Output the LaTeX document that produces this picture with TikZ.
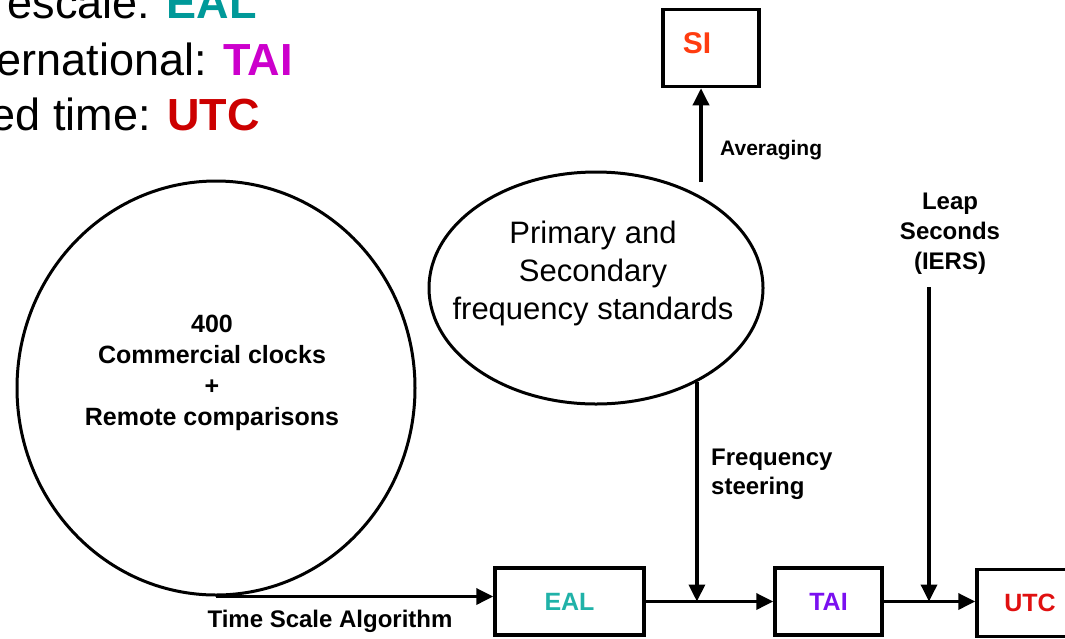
\documentclass[tikz,border=0pt]{standalone}
\usepackage{fontspec}
\setmainfont{Liberation Sans}
\usetikzlibrary{shapes.geometric,arrows.meta}
\definecolor{ealcol}{HTML}{009999}
\definecolor{taicol}{HTML}{CC00CC}
\definecolor{utccol}{HTML}{CC0000}
\definecolor{ealbox}{HTML}{20B2A8}
\definecolor{taibox}{HTML}{7A10F0}
\definecolor{utcbox}{HTML}{E01010}
\definecolor{sicol}{HTML}{FF3C10}
\tikzset{
  box/.style={draw,line width=3.5pt,minimum height=67pt,font=\fontsize{25}{29}\selectfont\bfseries},
  blob/.style={draw,ellipse,line width=3pt,inner sep=0pt},
  arr/.style={line width=3.5pt,-{Triangle[length=17pt,width=16pt]}},
  lbl/.style={font=\fontsize{24}{29}\selectfont\bfseries,align=center,inner sep=0pt},
  big/.style={font=\fontsize{45}{56}\selectfont,anchor=base east,inner sep=0pt}
}

\begin{document}
\begin{tikzpicture}[x=1pt,y=-1pt]
\useasboundingbox (0,0) rectangle (1065,638);
\clip (0,0) rectangle (1065,638);
\node[big] (line1) at (257,18) {escale: \textcolor{ealcol}{\bfseries EAL}};
\node[big] (line2) at (293,75) {ernational: \textcolor{taicol}{\bfseries TAI}};
\node[big] (line3) at (260,130) {ed time: \textcolor{utccol}{\bfseries UTC}};

\node[blob,minimum width=398pt,minimum height=414pt] (clocks) at (216,388) {};
\node[lbl,font=\fontsize{25}{31}\selectfont\bfseries] (clockstxt) at (212,373) {400\\Commercial clocks\\+\\Remote comparisons};
\node[blob,minimum width=334pt,minimum height=232pt] (stds) at (596,288) {};
\node[align=center,inner sep=0pt,font=\fontsize{31}{38}\selectfont] (stdstxt) at (593,273) {Primary and\\Secondary\\frequency standards};

\node[draw,line width=3.5pt,minimum width=96pt,minimum height=77pt] (si) at (711,48) {};
\node[text=sicol,font=\fontsize{30}{36}\selectfont\bfseries] (sitxt) at (697,43) {SI};

\node[box,minimum width=149pt,text=ealbox] (eal) at (569.5,601.5) {EAL};
\node[box,minimum width=107pt,text=taibox] (tai) at (828.5,601.5) {TAI};
\node[box,minimum width=106pt,text=utcbox] (utc) at (1030,603) {UTC};

\coordinate (avg) at (701,182);
\draw[arr] (avg) -- (avg |- si.south);
\node[lbl,anchor=west,font=\fontsize{21}{25}\selectfont\bfseries] (avgtxt) at (720,150) {Averaging};

\draw[arr] (clocks.south) -- (clocks.south -| eal.west);
\node[lbl] (algo) at (330,621) {Time Scale Algorithm};

\draw[arr] (eal.east) -- (tai.west);
\draw[arr] (tai.east) -- (tai.east -| utc.west);

\draw[arr] (stds.-43) -- (stds.-43 |- eal.east);
\node[lbl,anchor=west,align=left] (steer) at (711,474) {Frequency\\steering};

\node[lbl,font=\fontsize{24}{30}\selectfont\bfseries] (leap) at (950,234) {Leap\\Seconds\\(IERS)};
\coordinate (leaptail) at (929,287);
\draw[arr] (leaptail) -- (leaptail |- tai.east);
\end{tikzpicture}
\end{document}
